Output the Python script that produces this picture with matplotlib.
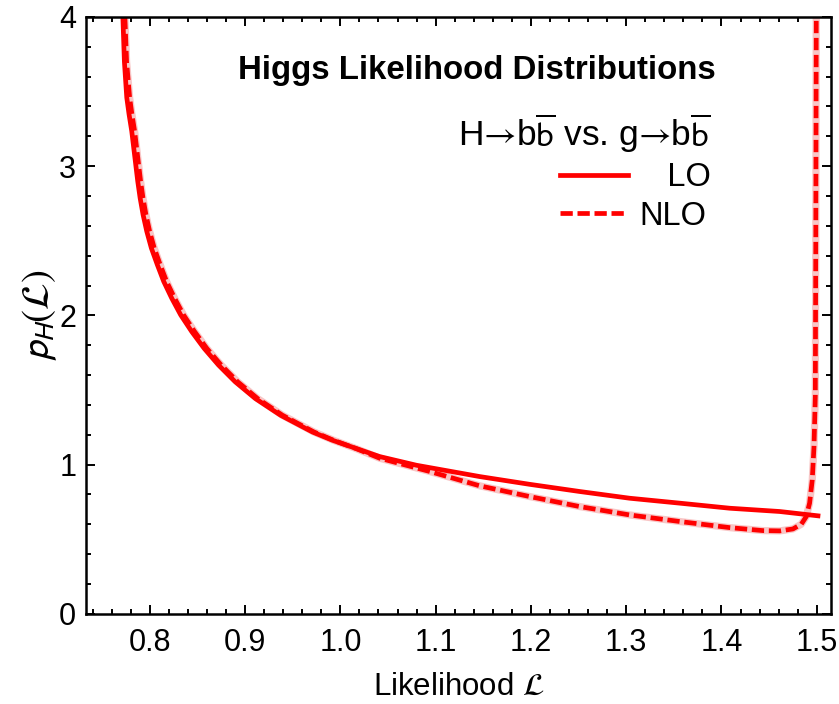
import numpy as np
import matplotlib
matplotlib.use("Agg")
import matplotlib.pyplot as plt
from matplotlib.lines import Line2D
from matplotlib.ticker import MultipleLocator, FormatStrFormatter

plt.rcParams['font.family'] = ['Liberation Sans', 'DejaVu Sans']
plt.rcParams['mathtext.fontset'] = 'stixsans'

# LO curve
L_lo = [0.7717, 0.7733, 0.7758, 0.7782, 0.7810, 0.7831, 0.7852, 0.7873, 0.7898,
        0.7929, 0.7968, 0.8016, 0.8079, 0.8146, 0.8230, 0.8324, 0.8440, 0.8570,
        0.8721, 0.8896, 0.9107, 0.9372, 0.9706, 0.9919, 1.0167, 1.0413, 1.0798,
        1.1463, 1.1988, 1.2512, 1.3036, 1.3561, 1.4086, 1.4611, 1.5013]
p_lo = [4.000, 3.700, 3.459, 3.347, 3.235, 3.123, 3.011, 2.899, 2.787,
        2.675, 2.563, 2.451, 2.339, 2.227, 2.115, 2.003, 1.891, 1.779,
        1.667, 1.555, 1.443, 1.331, 1.219, 1.163, 1.108, 1.054, 0.996,
        0.920, 0.868, 0.820, 0.775, 0.742, 0.708, 0.686, 0.657]

# NLO curve
L_nlo = [0.7738, 0.7756, 0.7788, 0.7812, 0.7840, 0.7861, 0.7882, 0.7903, 0.7928,
         0.7959, 0.7998, 0.8046, 0.8109, 0.8176, 0.8260, 0.8354, 0.8470, 0.8598,
         0.8749, 0.8922, 0.9131, 0.9392, 0.9722, 0.9929, 1.0171, 1.0413, 1.0938,
         1.1463, 1.1988, 1.2512, 1.3036, 1.3561, 1.4086, 1.4436, 1.4611, 1.4750,
         1.4838, 1.4890, 1.4925, 1.4953, 1.4971, 1.4985, 1.4990, 1.4995]
p_nlo = [4.000, 3.700, 3.459, 3.347, 3.235, 3.123, 3.011, 2.899, 2.787,
         2.675, 2.563, 2.451, 2.339, 2.227, 2.115, 2.003, 1.891, 1.779,
         1.667, 1.555, 1.443, 1.331, 1.219, 1.163, 1.106, 1.043, 0.954,
         0.858, 0.786, 0.719, 0.663, 0.619, 0.578, 0.558, 0.556, 0.569,
         0.601, 0.652, 0.742, 0.898, 1.121, 1.456, 2.500, 4.000]

xticks = [0.8, 0.9, 1.0, 1.1, 1.2, 1.3, 1.4, 1.5]
yticks = [0, 1, 2, 3, 4]

red = '#ff0000'
pink = '#f8c6c6'
lw = 3.4
dash = (2.6, 1.0)

fig = plt.figure(figsize=(8.39, 7.04), dpi=100)
ax = fig.add_axes([0.1025, 0.128, 0.888, 0.848])

ax.plot(L_nlo, p_nlo, color=pink, lw=5.2, solid_capstyle='butt')
ax.plot(L_lo, p_lo, color=red, lw=lw)
ax.plot(L_nlo, p_nlo, color=red, lw=lw, dashes=dash)

ax.set_xlim(0.733, 1.515)
ax.set_ylim(0, 4)
ax.set_xticks(xticks)
ax.set_yticks(yticks)
ax.xaxis.set_major_formatter(FormatStrFormatter('%.1f'))
ax.xaxis.set_minor_locator(MultipleLocator(0.02))
ax.yaxis.set_minor_locator(MultipleLocator(0.2))
ax.tick_params(which='both', direction='in', top=True, right=True,
               width=1.4, labelsize=22, colors='black')
ax.tick_params(which='major', length=6.5, pad=7)
ax.tick_params(axis='x', which='major', pad=10)
ax.tick_params(which='minor', length=3.6)
for s in ax.spines.values():
    s.set_linewidth(1.8)

ax.set_xlabel(r'Likelihood $\mathcal{L}$', fontsize=22.5, labelpad=10)
ax.set_ylabel(r'$p_H(\mathcal{L})$', fontsize=28, labelpad=0)

ax.text(0.845, 0.911, 'Higgs Likelihood Distributions', transform=ax.transAxes,
        ha='right', va='center', fontsize=23.8, fontweight='bold')

handles = [Line2D([], [], color=red, lw=lw),
           Line2D([], [], color=red, lw=lw, dashes=dash)]
leg = ax.legend(handles, ['   LO', 'NLO'],
                title='H$→$b$\\overline{\\mathrm{b}}$ vs. g$→$b$\\overline{\\mathrm{b}}$',
                loc='upper right', bbox_to_anchor=(0.838, 0.8425), frameon=False,
                fontsize=23.5, title_fontsize=25.5, alignment='right',
                handlelength=2.1, handletextpad=0.35, labelspacing=0.23,
                borderpad=0, borderaxespad=0)

fig.savefig('out.png', dpi=100)
